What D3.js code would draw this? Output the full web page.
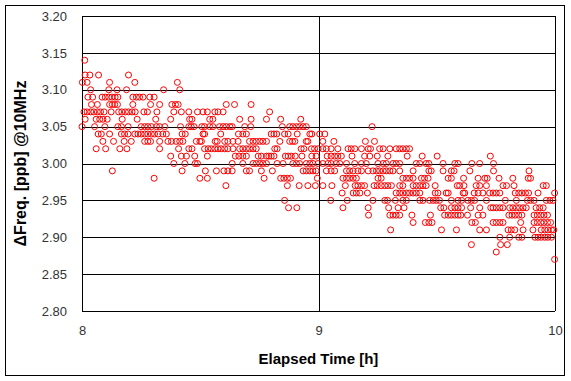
<!DOCTYPE html>
<html><head><meta charset="utf-8">
<script src="https://cdn.jsdelivr.net/npm/d3@7"></script>
<style>
html,body{margin:0;padding:0;background:#fff;}
svg{display:block;}
</style></head>
<body>
<svg id="chart" width="571" height="381"></svg>
<script>
// Axis ticks
const yTicks = [2.80, 2.85, 2.90, 2.95, 3.00, 3.05, 3.10, 3.15, 3.20];
const xTicks = [8, 9, 10];
const xLabel = "Elapsed Time [h]";
const yLabel = "ΔFreq. [ppb] @10MHz";

// Measured frequency offset (ppb), grouped by level; times in minutes after 8 h
const row314 = [0.7];
const row312 = [0.8, 2.0, 4.2, 11.8];
const row311 = [0.1, 1.3, 7.0, 13.4, 24.2];
const row310 = [2.2, 6.8, 8.9, 11.3, 20.7, 24.8];
const row309 = [1.5, 2.7, 5.1, 5.9, 6.8, 7.6, 8.4, 9.1, 12.9, 13.8, 14.6, 15.5, 17.2, 18.3];
const row308 = [2.4, 3.9, 7.0, 7.7, 8.3, 9.0, 12.9, 17.4, 19.7, 22.8, 23.7, 24.4, 36.6, 38.7, 42.9];
const row307 = [0.5, 1.3, 2.2, 3.0, 3.9, 4.7, 5.6, 7.4, 9.3, 10.1, 11.0, 11.8, 12.7, 13.5, 15.7, 16.6, 19.0, 23.3, 25.2, 27.1, 29.3, 30.7, 31.8, 33.7, 34.5, 35.8, 47.6];
const row306 = [0.8, 3.6, 4.5, 5.3, 6.4, 10.2, 14.0, 18.7, 22.5, 27.3, 27.9, 32.4, 33.2, 40.0, 42.9, 46.8, 50.4, 55.5];
const row305 = [0.0, 3.2, 5.8, 9.1, 10.0, 11.7, 15.0, 15.9, 16.7, 17.6, 18.9, 19.7, 21.0, 25.0, 27.1, 27.7, 28.4, 30.4, 31.1, 32.4, 33.2, 34.9, 35.8, 36.6, 37.5, 38.1, 41.3, 42.8, 50.8, 52.7, 53.5, 54.4, 55.2, 56.1, 56.9, 73.6];
const row304 = [4.1, 4.9, 7.0, 10.0, 10.8, 11.7, 13.4, 14.2, 15.0, 15.9, 16.7, 17.6, 18.4, 19.3, 20.5, 21.4, 25.4, 26.2, 30.7, 31.1, 35.2, 39.7, 40.8, 41.7, 48.0, 48.7, 49.4, 51.4, 52.3, 54.6, 57.8, 58.3, 60.3, 61.6];
const row303 = [5.3, 8.0, 10.7, 12.5, 15.9, 16.7, 17.4, 19.7, 21.8, 22.7, 23.9, 24.8, 25.6, 29.0, 29.9, 30.3, 33.8, 34.3, 36.2, 37.0, 38.3, 39.6, 42.5, 43.4, 44.2, 45.1, 45.9, 46.8, 50.2, 52.7, 53.4, 54.0, 56.9, 57.3, 61.1, 63.9, 71.9, 74.2];
const row302 = [3.6, 6.0, 9.6, 11.4, 19.7, 24.5, 27.1, 27.9, 31.1, 32.0, 32.8, 33.7, 34.5, 35.3, 36.2, 37.0, 38.3, 40.0, 40.8, 41.7, 42.5, 43.4, 44.2, 48.9, 49.5, 55.6, 56.3, 58.2, 59.0, 59.9, 61.1, 62.0, 63.2, 64.9, 67.5, 68.3, 69.2, 70.9, 72.6, 73.2, 75.5, 76.4, 78.1, 79.7, 80.6, 81.4, 82.3, 83.1];
const row301 = [22.5, 25.2, 26.5, 28.6, 31.8, 38.9, 39.8, 40.8, 41.7, 44.7, 45.5, 46.8, 47.4, 48.0, 48.7, 51.6, 52.3, 53.1, 54.1, 55.8, 58.3, 59.4, 62.2, 63.2, 64.1, 64.9, 65.8, 68.5, 71.7, 73.0, 74.9, 77.6, 82.5, 86.3, 90.1, 103.6];
const row300 = [23.3, 26.1, 28.7, 29.3, 38.1, 40.8, 43.4, 44.2, 45.1, 45.9, 46.8, 49.5, 51.0, 53.5, 54.4, 55.2, 56.9, 57.8, 58.6, 59.9, 61.1, 62.4, 63.2, 64.5, 65.4, 67.1, 69.2, 70.9, 72.1, 75.1, 76.4, 77.2, 78.9, 79.7, 80.6, 84.8, 85.7, 87.3, 88.0, 91.6, 94.6, 95.4, 98.9, 100.9, 104.4];
const row299 = [7.7, 25.4, 31.3, 34.1, 36.0, 37.0, 38.1, 41.7, 42.5, 45.5, 48.3, 56.1, 56.9, 57.8, 58.6, 59.4, 62.0, 63.2, 64.1, 67.1, 67.9, 68.8, 70.0, 70.9, 72.6, 73.8, 74.7, 75.5, 76.4, 77.2, 78.1, 78.9, 80.6, 84.0, 88.0, 88.6, 91.6, 93.7, 94.4, 98.4, 104.4, 113.4];
const row298 = [18.3, 29.9, 31.8, 46.2, 50.4, 51.2, 52.1, 52.9, 59.7, 66.2, 67.1, 67.9, 68.8, 69.6, 75.1, 75.9, 81.4, 82.3, 83.1, 84.0, 86.1, 86.9, 87.8, 92.9, 93.7, 96.8, 100.5, 102.2, 102.8, 105.8, 109.3, 113.2, 113.8];
const row297 = [36.5, 52.1, 55.1, 57.3, 59.2, 61.1, 63.4, 66.8, 69.3, 70.0, 70.9, 71.7, 74.1, 74.9, 75.9, 76.8, 77.6, 78.5, 80.6, 81.4, 84.0, 84.8, 85.7, 86.5, 87.3, 89.6, 95.2, 95.8, 96.9, 100.0, 100.9, 102.6, 106.8, 107.7, 109.6, 117.0, 117.8];
const row296 = [66.0, 68.8, 69.6, 70.5, 72.4, 79.7, 80.6, 81.4, 82.3, 83.1, 84.0, 84.8, 85.7, 89.6, 90.3, 92.4, 92.9, 96.7, 97.1, 99.5, 100.5, 101.7, 103.4, 104.3, 105.1, 106.0, 109.9, 110.8, 111.6, 112.5, 113.3, 115.7, 119.9];
const row295 = [51.4, 63.1, 67.3, 73.8, 76.8, 77.5, 79.5, 81.4, 82.3, 85.7, 86.5, 88.2, 89.1, 89.9, 90.7, 93.7, 95.4, 96.3, 97.9, 98.8, 99.6, 102.6, 107.4, 110.2, 113.0, 113.8, 114.7, 117.8, 118.7, 119.5];
const row294 = [52.4, 54.5, 66.2, 72.6, 77.8, 80.2, 81.7, 91.0, 91.8, 93.7, 94.6, 95.4, 96.3, 98.6, 100.9, 103.7, 104.3, 105.1, 106.0, 106.8, 108.5, 109.3, 110.2, 111.0, 111.9, 112.7, 115.2, 116.1, 117.0];
const row293 = [72.7, 78.1, 78.9, 79.7, 80.6, 83.7, 88.4, 92.0, 92.9, 93.7, 94.6, 95.4, 96.1, 97.8, 100.5, 101.7, 108.3, 109.1, 109.9, 110.8, 111.6, 114.7, 115.5, 116.4, 117.2, 118.1];
const row292 = [84.0, 87.1, 88.0, 88.8, 98.9, 99.8, 104.3, 105.1, 106.0, 106.8, 111.3, 114.7, 115.5, 116.4, 117.2, 118.1, 118.9];
const row291 = [78.3, 91.2, 95.0, 100.9, 102.6, 108.1, 108.9, 109.8, 111.9, 114.4, 116.5, 117.4, 118.2, 119.1, 119.7];
const row290 = [106.0, 108.5, 110.8, 111.6, 114.9, 115.7, 116.5, 117.4, 118.2, 119.1];
const row289 = [98.8, 106.2, 107.9];
const row288 = [105.1];
const row287 = [119.9];

const levels = [3.14, 3.12, 3.11, 3.10, 3.09, 3.08, 3.07, 3.06, 3.05, 3.04, 3.03, 3.02, 3.01, 3.00,
                2.99, 2.98, 2.97, 2.96, 2.95, 2.94, 2.93, 2.92, 2.91, 2.90, 2.89, 2.88, 2.87];
const rows = [row314, row312, row311, row310, row309, row308, row307, row306, row305, row304, row303, row302, row301, row300,
              row299, row298, row297, row296, row295, row294, row293, row292, row291, row290, row289, row288, row287];

const points = [];
levels.forEach((lv, i) => rows[i].forEach(m => points.push({t: 8 + m / 60, f: lv})));

const svg = d3.select("#chart");
const L = 82, R = 555, T = 16, B = 311;

const x = d3.scaleLinear().domain([8, 10]).range([L, R]);
const y = d3.scaleLinear().domain([2.80, 3.20]).range([B, T]);

// outer frame
svg.append("rect").attr("x", 5.5).attr("y", 5.5).attr("width", 559).attr("height", 370)
  .attr("fill", "#fff").attr("stroke", "#000").attr("stroke-width", 1);

// gridlines
const g = svg.append("g");
g.selectAll("line.h").data(yTicks).join("line")
  .attr("x1", L).attr("x2", R)
  .attr("y1", d => Math.round(y(d)) + 0.5).attr("y2", d => Math.round(y(d)) + 0.5)
  .attr("stroke", "#000").attr("stroke-width", 1);
g.selectAll("line.v").data(xTicks).join("line")
  .attr("y1", T).attr("y2", B)
  .attr("x1", d => Math.round(x(d)) + 0.5).attr("x2", d => Math.round(x(d)) + 0.5)
  .attr("stroke", "#000").attr("stroke-width", 1);

// axes (labels only)
const yAxis = d3.axisLeft(y).tickValues(yTicks).tickFormat(d3.format(".2f")).tickSize(0).tickPadding(15);
const yg = svg.append("g").attr("transform", `translate(${L},0)`).call(yAxis);
const xAxis = d3.axisBottom(x).tickValues(xTicks).tickFormat(d3.format("d")).tickSize(0).tickPadding(15);
const xg = svg.append("g").attr("transform", `translate(0,${B})`).call(xAxis);
[yg, xg].forEach(a => {
  a.select(".domain").remove();
  a.selectAll("text").attr("font-family", "Liberation Sans, Arial, sans-serif")
    .attr("font-size", 13).attr("fill", "#333");
});

// points
svg.append("g").selectAll("circle").data(points).join("circle")
  .attr("cx", d => x(d.t)).attr("cy", d => y(d.f)).attr("r", 3)
  .attr("fill", "none").attr("stroke", "#ff0000").attr("stroke-width", 1);

// titles
svg.append("text").attr("x", (L + R) / 2).attr("y", 364).attr("text-anchor", "middle")
  .attr("font-family", "Liberation Sans, Arial, sans-serif").attr("font-weight", "bold")
  .attr("font-size", 15).attr("fill", "#000").text(xLabel);
svg.append("text").attr("transform", `translate(26,${(T + B) / 2}) rotate(-90)`)
  .attr("text-anchor", "middle")
  .attr("font-family", "Liberation Sans, Arial, sans-serif").attr("font-weight", "bold")
  .attr("font-size", 16).attr("fill", "#000").text(yLabel);
</script>
</body></html>
